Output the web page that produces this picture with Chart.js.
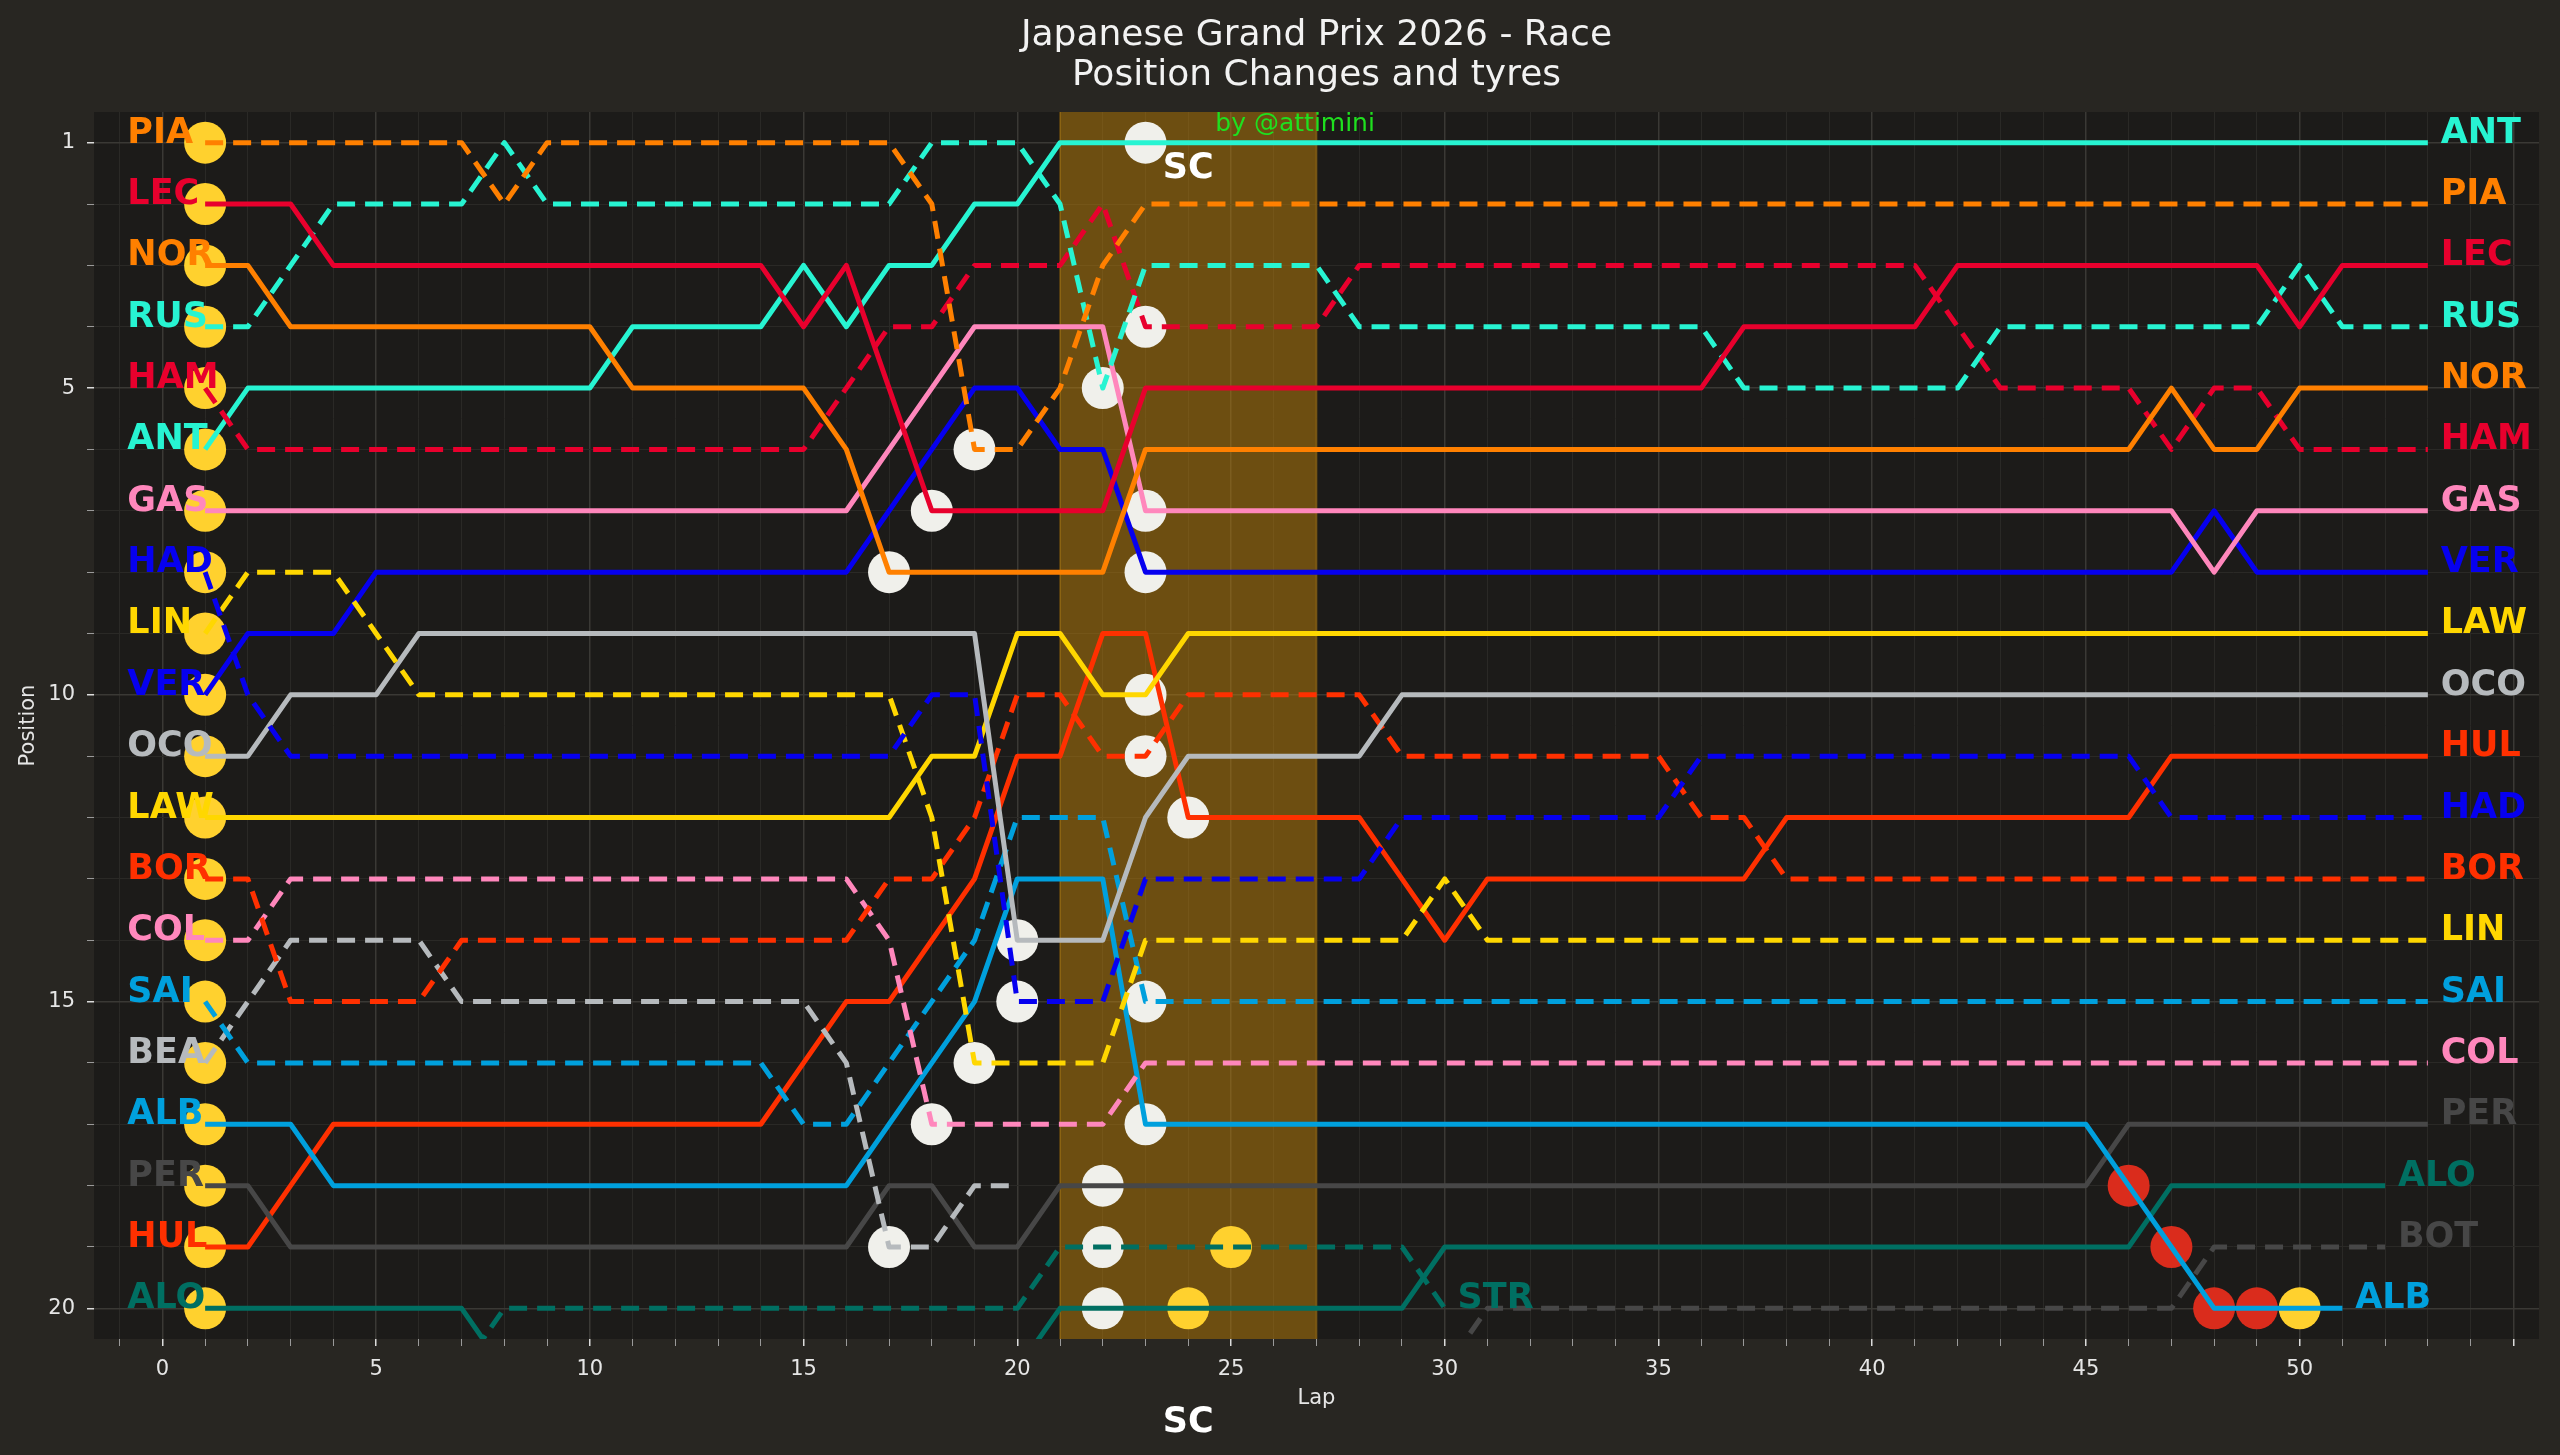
<!DOCTYPE html>
<html>
<head>
<meta charset="utf-8">
<title>Japanese Grand Prix 2026 - Race</title>
<script src="https://cdn.jsdelivr.net/npm/chart.js@4.4.1/dist/chart.umd.min.js"></script>
<style>
    html, body { margin: 0; padding: 0; background: #282622; overflow: hidden; }
    #wrap { width: 2560px; height: 1455px; }
</style>
</head>
<body>
<div id="wrap"><canvas id="positionChart" width="2560" height="1455"></canvas></div>
<script>
// laps of the race
const laps = [1, 2, 3, 4, 5, 6, 7, 8, 9, 10, 11, 12, 13, 14, 15, 16, 17, 18, 19, 20,
    21, 22, 23, 24, 25, 26, 27, 28, 29, 30, 31, 32, 33, 34, 35, 36, 37, 38, 39, 40,
    41, 42, 43, 44, 45, 46, 47, 48, 49, 50, 51, 52, 53];

// position per lap (null = no longer running)
const posPIA = [1,1,1,1,1,1,1,2,1,1, 1,1,1,1,1,1,1,2,6,6, 5,3,2,2,2,2,2,2,2,2, 2,2,2,2,2,2,2,2,2,2, 2,2,2,2,2,2,2,2,2,2, 2,2,2];
const posLEC = [2,2,2,3,3,3,3,3,3,3, 3,3,3,3,4,3,5,7,7,7, 7,7,5,5,5,5,5,5,5,5, 5,5,5,5,5,5,4,4,4,4, 4,3,3,3,3,3,3,3,3,4, 3,3,3];
const posNOR = [3,3,4,4,4,4,4,4,4,4, 5,5,5,5,5,6,8,8,8,8, 8,8,6,6,6,6,6,6,6,6, 6,6,6,6,6,6,6,6,6,6, 6,6,6,6,6,6,5,6,6,5, 5,5,5];
const posRUS = [4,4,3,2,2,2,2,1,2,2, 2,2,2,2,2,2,2,1,1,1, 2,5,3,3,3,3,3,4,4,4, 4,4,4,4,4,4,5,5,5,5, 5,5,4,4,4,4,4,4,4,3, 4,4,4];
const posHAM = [5,6,6,6,6,6,6,6,6,6, 6,6,6,6,6,5,4,4,3,3, 3,2,4,4,4,4,4,3,3,3, 3,3,3,3,3,3,3,3,3,3, 3,4,5,5,5,5,6,5,5,6, 6,6,6];
const posANT = [6,5,5,5,5,5,5,5,5,5, 4,4,4,4,3,4,3,3,2,2, 1,1,1,1,1,1,1,1,1,1, 1,1,1,1,1,1,1,1,1,1, 1,1,1,1,1,1,1,1,1,1, 1,1,1];
const posGAS = [7,7,7,7,7,7,7,7,7,7, 7,7,7,7,7,7,6,5,4,4, 4,4,7,7,7,7,7,7,7,7, 7,7,7,7,7,7,7,7,7,7, 7,7,7,7,7,7,7,8,7,7, 7,7,7];
const posHAD = [8,10,11,11,11,11,11,11,11,11, 11,11,11,11,11,11,11,10,10,15, 15,15,13,13,13,13,13,13,12,12, 12,12,12,12,12,11,11,11,11,11, 11,11,11,11,11,11,12,12,12,12, 12,12,12];
const posLIN = [9,8,8,8,9,10,10,10,10,10, 10,10,10,10,10,10,10,12,16,16, 16,16,14,14,14,14,14,14,14,13, 14,14,14,14,14,14,14,14,14,14, 14,14,14,14,14,14,14,14,14,14, 14,14,14];
const posVER = [10,9,9,9,8,8,8,8,8,8, 8,8,8,8,8,8,7,6,5,5, 6,6,8,8,8,8,8,8,8,8, 8,8,8,8,8,8,8,8,8,8, 8,8,8,8,8,8,8,7,8,8, 8,8,8];
const posOCO = [11,11,10,10,10,9,9,9,9,9, 9,9,9,9,9,9,9,9,9,14, 14,14,12,11,11,11,11,11,10,10, 10,10,10,10,10,10,10,10,10,10, 10,10,10,10,10,10,10,10,10,10, 10,10,10];
const posLAW = [12,12,12,12,12,12,12,12,12,12, 12,12,12,12,12,12,12,11,11,9, 9,10,10,9,9,9,9,9,9,9, 9,9,9,9,9,9,9,9,9,9, 9,9,9,9,9,9,9,9,9,9, 9,9,9];
const posBOR = [13,13,15,15,15,15,14,14,14,14, 14,14,14,14,14,14,13,13,12,10, 10,11,11,10,10,10,10,10,11,11, 11,11,11,11,11,12,12,13,13,13, 13,13,13,13,13,13,13,13,13,13, 13,13,13];
const posCOL = [14,14,13,13,13,13,13,13,13,13, 13,13,13,13,13,13,14,17,17,17, 17,17,16,16,16,16,16,16,16,16, 16,16,16,16,16,16,16,16,16,16, 16,16,16,16,16,16,16,16,16,16, 16,16,16];
const posSAI = [15,16,16,16,16,16,16,16,16,16, 16,16,16,16,17,17,16,15,14,12, 12,12,15,15,15,15,15,15,15,15, 15,15,15,15,15,15,15,15,15,15, 15,15,15,15,15,15,15,15,15,15, 15,15,15];
const posBEA = [16,15,14,14,14,14,15,15,15,15, 15,15,15,15,15,16,19,19,18,18];
const posALB = [17,17,17,18,18,18,18,18,18,18, 18,18,18,18,18,18,17,16,15,13, 13,13,17,17,17,17,17,17,17,17, 17,17,17,17,17,17,17,17,17,17, 17,17,17,17,17,18,19,20,20,20, 20];
const posPER = [18,18,19,19,19,19,19,19,19,19, 19,19,19,19,19,19,18,18,19,19, 18,18,18,18,18,18,18,18,18,18, 18,18,18,18,18,18,18,18,18,18, 18,18,18,18,18,17,17,17,17,17, 17,17,17];
const posHUL = [19,19,18,17,17,17,17,17,17,17, 17,17,17,17,16,15,15,14,13,11, 11,9,9,12,12,12,12,12,13,14, 13,13,13,13,13,13,13,12,12,12, 12,12,12,12,12,12,11,11,11,11, 11,11,11];
const posALO = [20,20,20,20,20,20,20,21,21,21, 21,21,21,21,21,21,21,21,21,21, 20,20,20,20,20,20,20,20,20,19, 19,19,19,19,19,19,19,19,19,19, 19,19,19,19,19,19,18,18,18,18, 18,18];
const posSTR = [21,21,21,21,21,21,21,20,20,20, 20,20,20,20,20,20,20,20,20,20, 19,19,19,19,19,19,19,19,19,20];
const posBOT = [22,22,22,22,22,22,22,22,22,22, 22,22,22,22,22,22,22,22,22,22, 21,21,21,21,21,21,21,21,21,21, 20,20,20,20,20,20,20,20,20,20, 20,20,20,20,20,20,20,19,19,19, 19,19];

// drivers in grid order, colours and line style (second driver of a team dashed)
const drivers = ['PIA', 'LEC', 'NOR', 'RUS', 'HAM', 'ANT', 'GAS', 'HAD', 'LIN', 'VER', 'OCO',
    'LAW', 'BOR', 'COL', 'SAI', 'BEA', 'ALB', 'PER', 'HUL', 'ALO', 'STR', 'BOT'];
const driverColors = ['#FF8000', '#E8002D', '#FF8000', '#27F4D2', '#E8002D', '#27F4D2', '#FF87BC',
    '#0600EF', '#FFD700', '#0600EF', '#B6BABD', '#FFD700', '#FF3000', '#FF87BC', '#00A0DD',
    '#B6BABD', '#00A0DD', '#474747', '#FF3000', '#006F62', '#006F62', '#474747'];
const driverDashed = [true, false, false, true, true, false, false, true, true, false, false,
    false, true, true, true, true, false, false, false, false, true, true];
const noEndLabel = ['BEA'];

// tyre changes [driver, lap]
const mediumTyres = [['PIA', 1], ['LEC', 1], ['NOR', 1], ['RUS', 1], ['HAM', 1], ['ANT', 1],
    ['GAS', 1], ['HAD', 1], ['LIN', 1], ['VER', 1], ['OCO', 1], ['LAW', 1], ['BOR', 1],
    ['COL', 1], ['SAI', 1], ['BEA', 1], ['ALB', 1], ['PER', 1], ['HUL', 1], ['ALO', 1],
    ['ALO', 24], ['STR', 25], ['ALB', 50]];
const hardTyres = [['NOR', 17], ['BEA', 17], ['LEC', 18], ['COL', 18], ['PIA', 19], ['LIN', 19],
    ['OCO', 20], ['HAD', 20], ['RUS', 22], ['PER', 22], ['STR', 22], ['ALO', 22], ['ANT', 23],
    ['HAM', 23], ['GAS', 23], ['VER', 23], ['LAW', 23], ['BOR', 23], ['SAI', 23], ['ALB', 23],
    ['HUL', 24]];
const softTyres = [['ALB', 46], ['ALB', 47], ['ALB', 48], ['ALB', 49]];

// safety car period
const safetyCar = [21, 27];

// axis ticks
const lapTicks = [-1, 0, 1, 2, 3, 4, 5, 6, 7, 8, 9, 10, 11, 12, 13, 14, 15, 16, 17, 18, 19, 20,
    21, 22, 23, 24, 25, 26, 27, 28, 29, 30, 31, 32, 33, 34, 35, 36, 37, 38, 39, 40, 41, 42,
    43, 44, 45, 46, 47, 48, 49, 50, 51, 52, 53, 54, 55];
const lapLabels = [0, 5, 10, 15, 20, 25, 30, 35, 40, 45, 50];
const positionTicks = [1, 2, 3, 4, 5, 6, 7, 8, 9, 10, 11, 12, 13, 14, 15, 16, 17, 18, 19, 20];
const positionLabels = [1, 5, 10, 15, 20];

const positions = {
    PIA: posPIA, LEC: posLEC, NOR: posNOR, RUS: posRUS, HAM: posHAM, ANT: posANT, GAS: posGAS,
    HAD: posHAD, LIN: posLIN, VER: posVER, OCO: posOCO, LAW: posLAW, BOR: posBOR, COL: posCOL,
    SAI: posSAI, BEA: posBEA, ALB: posALB, PER: posPER, HUL: posHUL, ALO: posALO, STR: posSTR,
    BOT: posBOT
};

const FONT = '"DejaVu Sans", "Liberation Sans", sans-serif';

document.addEventListener('DOMContentLoaded', function() {
    setupChart();
});

function tyrePoints(list) {
    return list.map(([code, lap]) => ({ x: lap, y: positions[code][laps.indexOf(lap)] }));
}

function buildDatasets() {
    const sets = drivers.map((code, i) => ({
        label: code,
        data: laps.map((lap, k) => ({ x: lap, y: positions[code][k] === undefined ? null : positions[code][k] })),
        borderColor: driverColors[i],
        borderWidth: 5,
        borderDash: driverDashed[i] ? [18, 10] : [],
        borderJoinStyle: 'round',
        pointRadius: 0,
        tension: 0,
        fill: false,
        order: 1
    }));

    // tyre markers under the lines
    const tyres = [
        { label: 'MEDIUM', list: mediumTyres, color: '#FFD12E' },
        { label: 'HARD', list: hardTyres, color: '#F0F0EB' },
        { label: 'SOFT', list: softTyres, color: '#DA2C1C' }
    ];
    tyres.forEach(t => {
        sets.push({
            label: t.label,
            data: tyrePoints(t.list),
            showLine: false,
            pointRadius: 21,
            pointBorderWidth: 0,
            pointBackgroundColor: t.color,
            pointHoverRadius: 21,
            clip: 0,
            order: 2
        });
    });
    return sets;
}

// backgrounds and safety car band
const backgroundPlugin = {
    id: 'backgroundPlugin',
    beforeDraw(chart) {
        const { ctx, chartArea: a } = chart;
        ctx.save();
        ctx.fillStyle = '#282622';
        ctx.fillRect(0, 0, chart.width, chart.height);
        ctx.fillStyle = '#1c1b19';
        ctx.fillRect(a.left, a.top, a.right - a.left, a.bottom - a.top);
        ctx.restore();
    },
    beforeDatasetsDraw(chart) {
        const { ctx, chartArea: a, scales } = chart;
        const x0 = scales.x.getPixelForValue(safetyCar[0]);
        const x1 = scales.x.getPixelForValue(safetyCar[1]);
        ctx.save();
        ctx.fillStyle = 'rgba(190, 130, 10, 0.5)';
        ctx.fillRect(x0, a.top, x1 - x0, a.bottom - a.top);
        ctx.strokeStyle = 'rgba(190, 130, 10, 0.35)';
        ctx.lineWidth = 2;
        ctx.beginPath();
        ctx.moveTo(x0, a.top); ctx.lineTo(x0, a.bottom);
        ctx.moveTo(x1, a.top); ctx.lineTo(x1, a.bottom);
        ctx.stroke();
        ctx.restore();
    }
};

// driver names, SC marks, title
const textPlugin = {
    id: 'textPlugin',
    afterDatasetsDraw(chart) {
        const { ctx, chartArea: a, scales } = chart;
        const x = scales.x, y = scales.y;
        ctx.save();
        ctx.textBaseline = 'alphabetic';
        ctx.textAlign = 'left';
        ctx.font = 'bold 35px ' + FONT;

        drivers.forEach((code, i) => {
            const pos = positions[code];
            ctx.fillStyle = driverColors[i];
            // start
            if (pos[0] <= 20) {
                ctx.fillText(code, x.getPixelForValue(-0.82), y.getPixelForValue(pos[0]));
            }
            // finish
            if (noEndLabel.indexOf(code) === -1) {
                const last = pos.length - 1;
                ctx.fillText(code, x.getPixelForValue(laps[last] + 0.3), y.getPixelForValue(pos[last]));
            }
        });

        // safety car labels
        ctx.fillStyle = '#ffffff';
        ctx.textAlign = 'center';
        ctx.textBaseline = 'middle';
        ctx.font = 'bold 35px ' + FONT;
        ctx.fillText('SC', x.getPixelForValue(24), y.getPixelForValue(1.43));
        ctx.fillText('SC', x.getPixelForValue(24), 1423);

        // watermark
        ctx.fillStyle = '#1fe01f';
        ctx.font = '25px ' + FONT;
        ctx.fillText('by @attimini', x.getPixelForValue(26.5), y.getPixelForValue(0.7));

        // title
        const cx = (a.left + a.right) / 2;
        ctx.fillStyle = '#f2f2f2';
        ctx.font = '36px ' + FONT;
        ctx.fillText('Japanese Grand Prix 2026 - Race', cx, 36);
        ctx.fillText('Position Changes and tyres', cx, 76);
        ctx.restore();
    }
};

function setupChart() {
    const ctx = document.getElementById('positionChart').getContext('2d');
    new Chart(ctx, {
        type: 'line',
        data: { datasets: buildDatasets() },
        options: {
            responsive: false,
            animation: false,
            devicePixelRatio: 1,
            events: [],
            layout: { padding: { top: 112, right: 17, left: 0, bottom: 0 } },
            plugins: {
                legend: { display: false },
                tooltip: { enabled: false },
                title: { display: false }
            },
            scales: {
                x: {
                    type: 'linear',
                    min: -1.6,
                    max: 55.6,
                    afterBuildTicks: function(scale) {
                        scale.ticks = lapTicks.map(v => ({ value: v }));
                    },
                    afterFit: function(scale) {
                        scale.height = 116;
                    },
                    ticks: {
                        autoSkip: false,
                        maxRotation: 0,
                        padding: 11,
                        color: '#e6e6e6',
                        font: { family: FONT, size: 21 },
                        callback: function(value) {
                            return lapLabels.indexOf(value) !== -1 ? String(value) : '';
                        }
                    },
                    grid: {
                        color: c => (c.tick && c.tick.value % 5 === 0) ? '#3a3935' : '#2a2926',
                        lineWidth: c => (c.tick && c.tick.value % 5 === 0) ? 1.5 : 1,
                        tickColor: c => (c.tick && c.tick.value % 5 === 0) ? '#dcdcdc' : '#9a9a9a',
                        tickLength: 7
                    },
                    border: { display: false },
                    title: {
                        display: true,
                        text: 'Lap',
                        color: '#e6e6e6',
                        font: { family: FONT, size: 21 },
                        padding: { top: 0, bottom: 44 }
                    }
                },
                y: {
                    type: 'linear',
                    reverse: true,
                    min: 0.5,
                    max: 20.5,
                    afterBuildTicks: function(scale) {
                        scale.ticks = positionTicks.map(v => ({ value: v }));
                    },
                    afterFit: function(scale) {
                        scale.width = 94;
                    },
                    ticks: {
                        autoSkip: false,
                        padding: 12,
                        color: '#e6e6e6',
                        font: { family: FONT, size: 21 },
                        callback: function(value) {
                            return positionLabels.indexOf(value) !== -1 ? String(value) : '';
                        }
                    },
                    grid: {
                        color: c => (c.tick && positionLabels.indexOf(c.tick.value) !== -1) ? '#3a3935' : '#2a2926',
                        lineWidth: c => (c.tick && positionLabels.indexOf(c.tick.value) !== -1) ? 1.5 : 1,
                        tickColor: c => (c.tick && positionLabels.indexOf(c.tick.value) !== -1) ? '#dcdcdc' : '#9a9a9a',
                        tickLength: 7
                    },
                    border: { display: false },
                    title: {
                        display: true,
                        text: 'Position',
                        color: '#e6e6e6',
                        font: { family: FONT, size: 21 },
                        padding: { top: 16, bottom: 0 }
                    }
                }
            }
        },
        plugins: [backgroundPlugin, textPlugin]
    });
}
</script>
</body>
</html>
